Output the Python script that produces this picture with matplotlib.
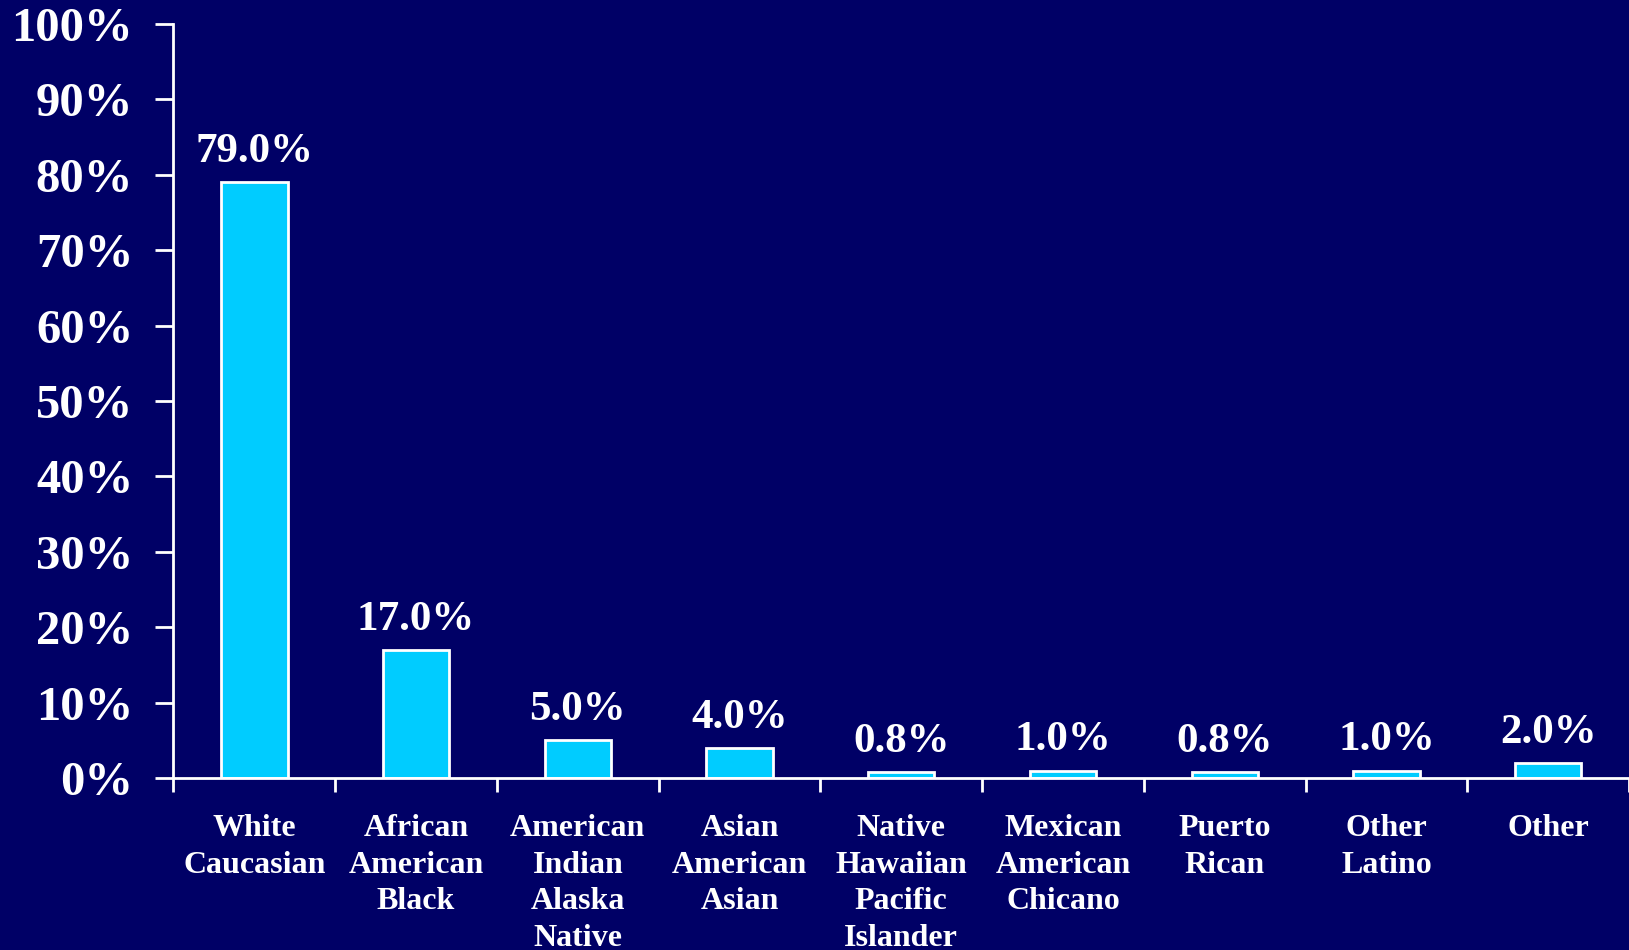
import matplotlib.pyplot as plt
from matplotlib.ticker import FixedLocator, PercentFormatter

categories = ["White\nCaucasian", "African\nAmerican\nBlack", "American\nIndian\nAlaska\nNative",
              "Asian\nAmerican\nAsian", "Native\nHawaiian\nPacific\nIslander", "Mexican\nAmerican\nChicano",
              "Puerto\nRican", "Other\nLatino", "Other"]
values = [79.0, 17.0, 5.0, 4.0, 0.8, 1.0, 0.8, 1.0, 2.0]
yticks = list(range(0, 101, 10))

BG = "#000066"
BAR = "#00CCFF"
FONT = "Liberation Serif"

fig = plt.figure(figsize=(16.29, 9.50), dpi=100, facecolor=BG)
ax = fig.add_axes([0.1065, 0.181, 0.8935, 0.7937], facecolor=BG)

x = list(range(len(values)))
bars = ax.bar(x, values, width=0.41, color=BAR, edgecolor="white", linewidth=2)

for b, v in zip(bars, values):
    ax.annotate(f"{v:.1f}%", (b.get_x() + b.get_width() / 2, v), xytext=(0, 8),
                textcoords="offset points", ha="center", va="bottom",
                fontsize=31, fontweight="bold", color="white", family=FONT)

ax.set_xlim(-0.5, len(values) - 0.5)
ax.set_ylim(0, 100)
ax.set_yticks(yticks)
ax.yaxis.set_major_formatter(PercentFormatter(decimals=0))
ax.set_xticks(x)
ax.set_xticklabels(categories, fontsize=23, fontweight="bold", color="white",
                   family=FONT, linespacing=1.34, va="top")
ax.xaxis.set_minor_locator(FixedLocator([i - 0.5 for i in range(len(values) + 1)]))
ax.tick_params(axis="x", which="major", length=0, pad=26)
ax.tick_params(axis="x", which="minor", length=10, width=2, color="white", direction="out")
ax.tick_params(axis="y", length=13, width=2, color="white", pad=16)
for lbl in ax.get_yticklabels():
    lbl.set_fontsize(35)
    lbl.set_fontweight("bold")
    lbl.set_color("white")
    lbl.set_family(FONT)

for s in ["top", "right"]:
    ax.spines[s].set_visible(False)
for s in ["left", "bottom"]:
    ax.spines[s].set_color("white")
    ax.spines[s].set_linewidth(2)

fig.savefig("out.png", dpi=100, facecolor=BG)
